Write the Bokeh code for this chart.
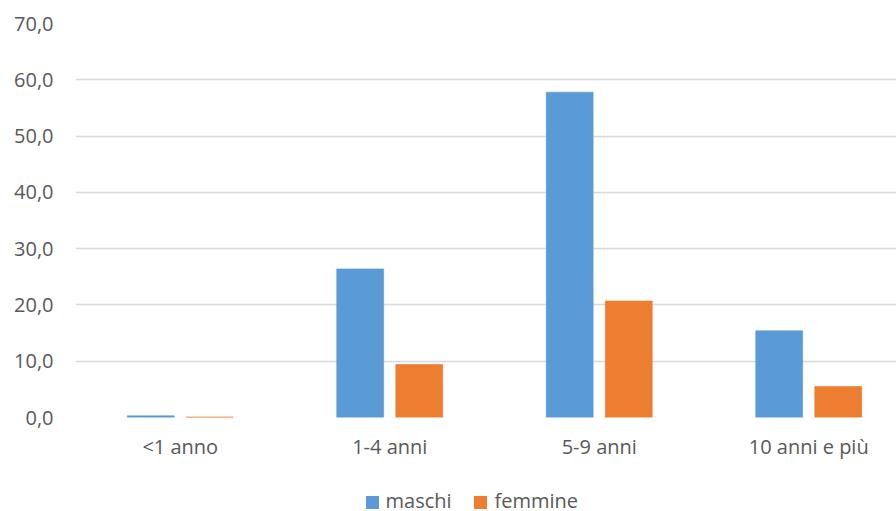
import numpy as np
from bokeh.plotting import figure
from bokeh.layouts import column
from bokeh.core.properties import value
from bokeh.models import ColumnDataSource, FixedTicker, Range1d
from bokeh.transform import dodge
from bokeh.embed import file_html
from bokeh.resources import INLINE

# Age classes and percentages by sex
categories = ["<1 anno", "1-4 anni", "5-9 anni", "10 anni e più"]
maschi = [0.3, 26.4, 57.8, 15.4]
femmine = [0.1, 9.4, 20.7, 5.5]
series_names = ["maschi", "femmine"]
y_ticks = [0, 10, 20, 30, 40, 50, 60, 70]
y_tick_labels = ["0,0", "10,0", "20,0", "30,0", "40,0", "50,0", "60,0", "70,0"]

FONT = "Open Sans"
FONT_SIZE = "20px"
TEXT_COLOR = "#595959"
GRID_COLOR = "#d9d9d9"
BLUE = "#5B9BD5"
ORANGE = "#ED7D31"
LEFT = 75

xc = np.arange(len(categories)) + 0.5
source = ColumnDataSource(dict(xc=xc, cat=categories, maschi=maschi, femmine=femmine))

p = figure(width=896, height=466, output_backend="svg", toolbar_location=None,
           x_range=Range1d(0, 3.919), y_range=Range1d(0, 70),
           min_border_left=LEFT, min_border_right=0, min_border_top=23,
           min_border_bottom=49)
p.outline_line_color = None
p.background_fill_color = "white"
p.border_fill_color = "white"

bw = 0.224
p.vbar(x=dodge("xc", -0.141, range=p.x_range), top="maschi", width=bw,
       bottom=0, source=source, fill_color=BLUE, line_color=BLUE,
       line_alpha=0.6, line_width=1)
p.vbar(x=dodge("xc", 0.141, range=p.x_range), top="femmine", width=bw,
       bottom=0, source=source, fill_color=ORANGE, line_color=ORANGE,
       line_alpha=0.6, line_width=1)

# y axis: labels only, grid carries the lines
p.yaxis.ticker = FixedTicker(ticks=y_ticks)
p.yaxis.major_label_overrides = {t: l for t, l in zip(y_ticks, y_tick_labels)}
p.yaxis.axis_line_color = None
p.yaxis.major_tick_line_color = None
p.yaxis.minor_tick_line_color = None
p.yaxis.major_label_standoff = 16
p.yaxis.major_label_text_font = FONT
p.yaxis.major_label_text_font_size = FONT_SIZE
p.yaxis.major_label_text_color = TEXT_COLOR

# x axis: category names at the group centres
p.xaxis.ticker = FixedTicker(ticks=list(xc))
p.xaxis.major_label_overrides = {float(x): c for x, c in zip(xc, categories)}
p.xaxis.axis_line_color = None
p.xaxis.major_tick_line_color = None
p.xaxis.minor_tick_line_color = None
p.xaxis.major_label_standoff = 9
p.xaxis.major_label_text_font = FONT
p.xaxis.major_label_text_font_size = FONT_SIZE
p.xaxis.major_label_text_color = TEXT_COLOR

p.xgrid.grid_line_color = None
p.ygrid.ticker = FixedTicker(ticks=y_ticks)
p.ygrid.grid_line_color = GRID_COLOR
p.ygrid.grid_line_width = 1.5

# legend strip under the chart; its frame lines up with the chart frame,
# so the x range runs in page pixels from the frame's left edge
lg = figure(width=896, height=45, output_backend="svg", toolbar_location=None,
            x_range=Range1d(LEFT, 896), y_range=Range1d(0, 45),
            x_axis_type=None, y_axis_type=None,
            min_border_left=LEFT, min_border_right=0, min_border_top=0,
            min_border_bottom=0)
lg.outline_line_color = None
lg.xgrid.grid_line_color = None
lg.ygrid.grid_line_color = None

legend_src = ColumnDataSource(dict(
    sx=[372, 480], tx=[385, 494], sy=[9, 9], ty=[11, 11],
    name=series_names, color=[BLUE, ORANGE]))
lg.rect(x="sx", y="sy", width=13, height=13, width_units="screen",
        height_units="screen", source=legend_src, fill_color="color",
        line_color=None)
lg.text(x="tx", y="ty", text="name", source=legend_src,
        text_font=value(FONT), text_font_size=FONT_SIZE,
        text_color=TEXT_COLOR, text_baseline="middle", text_align="left")

layout = column(p, lg, spacing=0)
open("out.html", "w").write(file_html(layout, INLINE))
